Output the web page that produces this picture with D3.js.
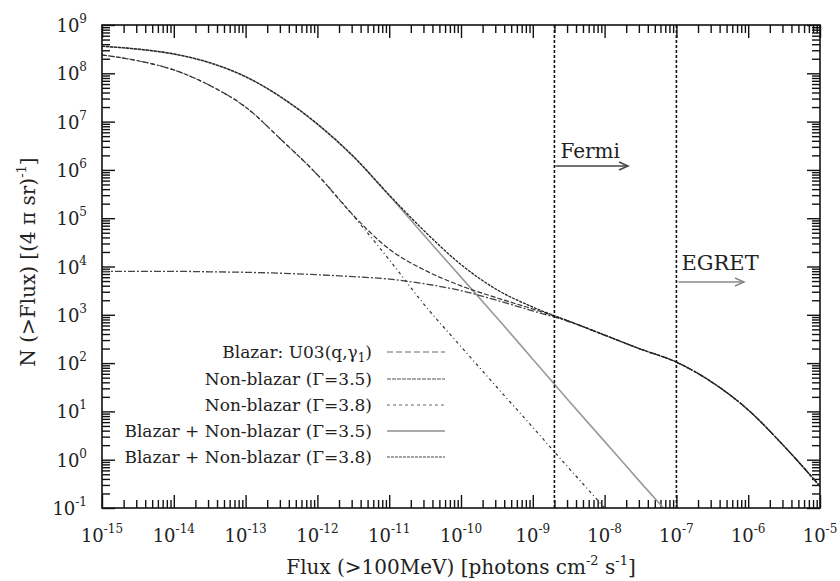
<!DOCTYPE html>
<html><head><meta charset="utf-8">
<script src="https://cdn.jsdelivr.net/npm/d3@7"></script>
<style>
body{margin:0;background:#fff;}
svg{display:block;}
</style></head>
<body><svg id="c" width="840" height="581"></svg>
<script>
// log10(flux) grid
const logFlux = [-15,-14.5,-14,-13.5,-13,-12.5,-12,-11.5,-11,-10.5,-10,-9.5,-9,-8.5,-8,-7.5,-7,-6.5,-6,-5.5,-5];
// log10 N(>Flux) for each series (null = not drawn)
const blazarU03 = [3.90,3.90,3.90,3.89,3.88,3.86,3.83,3.79,3.74,3.64,3.50,3.30,3.08,2.86,2.58,2.29,2.02,1.60,1.03,0.28,-0.55];
const nonBlazar35 = [8.56,8.50,8.40,8.22,7.93,7.50,6.95,6.28,5.47,4.62,3.78,2.94,2.08,1.22,0.38,-0.47,-1.30,null,null,null,null];
const nonBlazar38 = [8.38,8.26,8.07,7.75,7.30,6.62,5.90,5.05,4.14,3.19,2.34,1.50,0.67,-0.17,-1.00,null,null,null,null,null,null];
const sum35 = [8.56,8.50,8.40,8.22,7.93,7.50,6.95,6.28,5.48,4.72,4.04,3.52,3.16,2.87,2.58,2.29,2.02,1.60,1.03,0.28,-0.55];
const sum38 = [8.38,8.26,8.07,7.75,7.30,6.62,5.90,5.06,4.36,3.92,3.60,3.35,3.12,2.87,2.58,2.29,2.02,1.60,1.03,0.28,-0.55];
const xTickExp = [-15,-14,-13,-12,-11,-10,-9,-8,-7,-6,-5];
const yTickExp = [-1,0,1,2,3,4,5,6,7,8,9];
const limits = [{name:"Fermi", flux:2e-9}, {name:"EGRET", flux:1e-7}];
const legendLabels = ["Blazar: U03(q,γ","Non-blazar (Γ=3.5)","Non-blazar (Γ=3.8)","Blazar + Non-blazar (Γ=3.5)","Blazar + Non-blazar (Γ=3.8)"];

const FONT = "'DejaVu Serif', serif";
const svg = d3.select("#c");
const L=102,R=820,T=25,B=508;
const x = d3.scaleLog().domain([1e-15,1e-5]).range([L,R]);
const y = d3.scaleLog().domain([1e-1,1e9]).range([B,T]);
function txt(){ return svg.append("text").attr("font-family",FONT).attr("fill","#222"); }

svg.append("clipPath").attr("id","cp").append("rect").attr("x",L).attr("y",T).attr("width",R-L).attr("height",B-T);

// ticks
const majorX = xTickExp.map(e=>Math.pow(10,e));
const minorX = []; xTickExp.slice(0,-1).forEach(e=>{for(let k=2;k<10;k++)minorX.push(k*Math.pow(10,e));});
const majorY = yTickExp.map(e=>Math.pow(10,e));
const minorY = []; yTickExp.slice(0,-1).forEach(e=>{for(let k=2;k<10;k++)minorY.push(k*Math.pow(10,e));});
function ax(gen, vals, size, tr){
  const g = svg.append("g").attr("transform",tr).call(gen.tickValues(vals).tickSize(size).tickFormat(""));
  g.select(".domain").remove();
  g.selectAll("line").attr("stroke","#111").attr("stroke-width",1.4);
}
ax(d3.axisBottom(x), majorX, -13, `translate(0,${B})`);
ax(d3.axisBottom(x), minorX, -8, `translate(0,${B})`);
ax(d3.axisTop(x), majorX, -13, `translate(0,${T})`);
ax(d3.axisTop(x), minorX, -8, `translate(0,${T})`);
ax(d3.axisLeft(y), majorY, -13, `translate(${L},0)`);
ax(d3.axisLeft(y), minorY, -8, `translate(${L},0)`);
ax(d3.axisRight(y), majorY, -13, `translate(${R},0)`);
ax(d3.axisRight(y), minorY, -8, `translate(${R},0)`);

// tick labels
xTickExp.forEach(e=>{
  const t = txt().attr("x",x(Math.pow(10,e))).attr("y",B+34).attr("text-anchor","middle").style("font-size","18px");
  t.append("tspan").text("10");
  t.append("tspan").attr("dy",-9).style("font-size","12px").text(e);
});
yTickExp.forEach(e=>{
  const t = txt().attr("x",L-15).attr("y",y(Math.pow(10,e))+7).attr("text-anchor","end").style("font-size","18px");
  t.append("tspan").text("10");
  t.append("tspan").attr("dy",-9).style("font-size","12px").text(e);
});

// curves
function series(vals){ return logFlux.map((lf,i)=>vals[i]===null?null:[Math.pow(10,lf),Math.pow(10,vals[i])]).filter(d=>d); }
const line = d3.line().x(d=>x(d[0])).y(d=>y(d[1])).curve(d3.curveMonotoneX);
const cg = svg.append("g").attr("clip-path","url(#cp)");
const styles = [
  {data:nonBlazar35, stroke:"#9a9a9a", w:1.6, dash:null},
  {data:blazarU03, stroke:"#444", w:1.3, dash:"7,2,2,2"},
  {data:nonBlazar38, stroke:"#333", w:1.2, dash:"3,3,1,3"},
  {data:sum38, stroke:"#333", w:1.2, dash:"5,2"},
  {data:sum35, stroke:"#222", w:1.3, dash:"3,1"}
];
styles.forEach(s=>{
  cg.append("path").datum(series(s.data)).attr("d",line).attr("fill","none")
    .attr("stroke",s.stroke).attr("stroke-width",s.w).attr("stroke-dasharray",s.dash);
});

// limits
limits.forEach(l=>{
  svg.append("line").attr("x1",x(l.flux)).attr("x2",x(l.flux)).attr("y1",T).attr("y2",B)
    .attr("stroke","#111").attr("stroke-width",1.6).attr("stroke-dasharray","3,2");
});
function arrow(x1,x2,yy,col){
  svg.append("line").attr("x1",x1).attr("x2",x2).attr("y1",yy).attr("y2",yy).attr("stroke",col).attr("stroke-width",1.5);
  svg.append("path").attr("d",`M${x2-9},${yy-4}L${x2},${yy}L${x2-9},${yy+4}`).attr("fill","none").attr("stroke",col).attr("stroke-width",1.5);
}
txt().attr("x",x(limits[0].flux)+6).attr("y",158).style("font-size","20px").text("Fermi");
arrow(x(limits[0].flux)+1,628,166,"#444");
txt().attr("x",x(limits[1].flux)+5).attr("y",270).style("font-size","21px").text("EGRET");
arrow(x(limits[1].flux)+2,744,282,"#888");

// frame
svg.append("rect").attr("x",L).attr("y",T).attr("width",R-L).attr("height",B-T).attr("fill","none").attr("stroke","#111").attr("stroke-width",1.6);

// legend
const lgY = [352,379,405,431,457];
const lgStyle = [
  {stroke:"#999",w:1.6,dash:"6,3"},
  {stroke:"#555",w:1,dash:"4,1"},
  {stroke:"#666",w:1,dash:"3,3"},
  {stroke:"#aaa",w:2,dash:null},
  {stroke:"#444",w:1,dash:"3,1"}
];
legendLabels.forEach((lab,i)=>{
  const t = txt().attr("x",372).attr("y",lgY[i]+6).attr("text-anchor","end").style("font-size","17px");
  t.append("tspan").text(lab);
  if(i===0){ t.append("tspan").attr("dy",4).style("font-size","12px").text("1"); t.append("tspan").attr("dy",-4).text(")"); }
  svg.append("line").attr("x1",387).attr("x2",445).attr("y1",lgY[i]).attr("y2",lgY[i])
    .attr("stroke",lgStyle[i].stroke).attr("stroke-width",lgStyle[i].w).attr("stroke-dasharray",lgStyle[i].dash);
});

// axis titles
const xt = txt().attr("x",461).attr("y",574).attr("text-anchor","middle").style("font-size","20px");
xt.append("tspan").text("Flux (>100MeV) [photons cm");
xt.append("tspan").attr("dy",-9).style("font-size","13px").text("-2");
xt.append("tspan").attr("dy",9).text(" s");
xt.append("tspan").attr("dy",-9).style("font-size","13px").text("-1");
xt.append("tspan").attr("dy",9).text("]");
const yt = txt().attr("transform","translate(35,262) rotate(-90)").attr("text-anchor","middle").style("font-size","20px");
yt.append("tspan").text("N (>Flux) [(4 π sr)");
yt.append("tspan").attr("dy",-9).style("font-size","13px").text("-1");
yt.append("tspan").attr("dy",9).text("]");
</script></body></html>
